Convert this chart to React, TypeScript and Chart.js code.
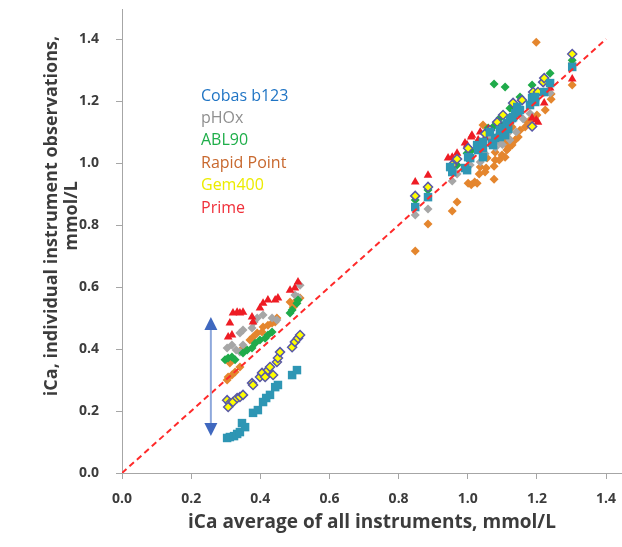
import React, { useEffect, useRef } from 'react';
import { Chart, registerables } from 'chart.js';

Chart.register(...registerables);

// ---------- data ----------
const xTickValues = [0, 0.2, 0.4, 0.6, 0.8, 1.0, 1.2, 1.4];
const yTickValues = [0, 0.2, 0.4, 0.6, 0.8, 1.0, 1.2, 1.4];

const legendLabels = ['Cobas b123', 'pHOx', 'ABL90', 'Rapid Point', 'Gem400', 'Prime'];
const legendColors = ['#1f74c4', '#8f8f8f', '#1fae4a', '#c8682e', '#ecec00', '#f0303a'];

const identityLine: [number, number][] = [[0, 0], [1.4, 1.4]];
const arrowX = 0.257;
const arrowY: [number, number] = [0.503, 0.119];

const cobas: [number, number][] = [
  [0.304, 0.113], [0.312, 0.116], [0.324, 0.119], [0.333, 0.126], [0.341, 0.132], [0.347, 0.161],
  [0.356, 0.148], [0.379, 0.194], [0.393, 0.203], [0.408, 0.229], [0.417, 0.242], [0.428, 0.252],
  [0.443, 0.277], [0.451, 0.284], [0.492, 0.316], [0.506, 0.332],
  [0.848, 0.858], [0.885, 0.890], [0.955, 0.971], [0.949, 0.987], [0.992, 0.984], [0.998, 0.977],
  [1.001, 1.019], [1.007, 1.016], [1.027, 1.058], [1.030, 1.042], [1.044, 1.019], [1.044, 1.048],
  [1.044, 1.068], [1.070, 1.065], [1.073, 1.058], [1.064, 1.100], [1.079, 1.081], [1.093, 1.084],
  [1.093, 1.106], [1.102, 1.113], [1.108, 1.090], [1.113, 1.123], [1.117, 1.110], [1.113, 1.129],
  [1.122, 1.139], [1.128, 1.145], [1.131, 1.148], [1.137, 1.161], [1.143, 1.181], [1.146, 1.165],
  [1.151, 1.171], [1.180, 1.187], [1.186, 1.210], [1.195, 1.197], [1.195, 1.213], [1.221, 1.229],
  [1.238, 1.258], [1.302, 1.310],
];

const phox: [number, number][] = [
  [0.304, 0.403], [0.318, 0.413], [0.330, 0.397], [0.341, 0.390], [0.350, 0.413], [0.341, 0.452],
  [0.350, 0.461], [0.376, 0.468], [0.382, 0.487], [0.391, 0.500], [0.408, 0.510], [0.434, 0.500],
  [0.448, 0.494], [0.500, 0.574], [0.509, 0.568], [0.515, 0.606],
  [0.848, 0.832], [0.885, 0.852], [0.955, 0.942], [0.969, 0.965], [1.007, 0.994], [1.036, 1.003],
  [1.050, 1.030], [1.065, 1.084], [1.080, 1.050], [1.093, 1.065], [1.100, 1.060], [1.115, 1.095],
  [1.122, 1.074], [1.140, 1.100], [1.160, 1.142], [1.180, 1.160], [1.221, 1.229], [1.238, 1.226],
  [1.302, 1.323],
];

const abl90: [number, number][] = [
  [0.298, 0.365], [0.307, 0.371], [0.318, 0.374], [0.327, 0.365], [0.350, 0.387], [0.362, 0.397],
  [0.376, 0.403], [0.385, 0.419], [0.399, 0.429], [0.414, 0.435], [0.422, 0.445], [0.434, 0.455],
  [0.486, 0.516], [0.492, 0.526], [0.506, 0.548], [0.509, 0.558],
  [0.848, 0.881], [0.885, 0.913], [0.955, 0.980], [0.969, 0.994], [0.998, 1.032], [1.010, 1.040],
  [1.027, 1.058], [1.044, 1.068], [1.059, 1.113], [1.073, 1.116], [1.093, 1.145], [1.100, 1.120],
  [1.076, 1.255], [1.108, 1.245], [1.122, 1.177], [1.131, 1.187], [1.151, 1.213], [1.186, 1.252],
  [1.189, 1.229], [1.218, 1.261], [1.238, 1.290], [1.302, 1.332],
];

const rapidPoint: [number, number][] = [
  [0.304, 0.300], [0.307, 0.310], [0.318, 0.316], [0.327, 0.326], [0.312, 0.355], [0.341, 0.342],
  [0.350, 0.403], [0.370, 0.429], [0.379, 0.439], [0.391, 0.452], [0.405, 0.455], [0.408, 0.471],
  [0.422, 0.477], [0.434, 0.484], [0.443, 0.487], [0.448, 0.500], [0.486, 0.552], [0.495, 0.535],
  [0.506, 0.558], [0.515, 0.565],
  [1.198, 1.390], [0.848, 0.716], [0.885, 0.803], [0.955, 0.845], [0.969, 0.874], [1.001, 0.935],
  [1.010, 0.930], [1.020, 0.939], [1.027, 0.935], [1.033, 0.965], [1.076, 0.948], [1.036, 0.987],
  [1.050, 0.971], [1.053, 0.984], [1.076, 0.990], [1.079, 1.010], [1.091, 1.010], [1.056, 1.016],
  [1.099, 1.026], [1.108, 1.019], [1.113, 1.042], [1.117, 1.048], [1.093, 1.068], [1.108, 1.065],
  [1.128, 1.058], [1.137, 1.074], [1.117, 1.081], [1.146, 1.084], [1.151, 1.106], [1.128, 1.116],
  [1.166, 1.116], [1.174, 1.132], [1.186, 1.145], [1.200, 1.155], [1.224, 1.171], [1.241, 1.206],
  [1.241, 1.223], [1.302, 1.252], [1.044, 1.123], [1.102, 1.074], [1.079, 1.035],
];

const gem400: [number, number][] = [
  [0.304, 0.235], [0.312, 0.226], [0.307, 0.213], [0.321, 0.229], [0.333, 0.242], [0.341, 0.245],
  [0.350, 0.252], [0.376, 0.290], [0.379, 0.284], [0.399, 0.310], [0.405, 0.323], [0.414, 0.310],
  [0.422, 0.332], [0.428, 0.342], [0.437, 0.316], [0.448, 0.358], [0.451, 0.371], [0.457, 0.390],
  [0.492, 0.406], [0.500, 0.423], [0.509, 0.435], [0.515, 0.445],
  [0.848, 0.894], [0.885, 0.923], [0.955, 0.994], [0.969, 1.013], [1.001, 1.048], [1.036, 1.052],
  [1.050, 1.095], [1.064, 1.106], [1.085, 1.132], [1.102, 1.155], [1.131, 1.194], [1.157, 1.203],
  [1.186, 1.118], [1.189, 1.229], [1.203, 1.229], [1.218, 1.261], [1.221, 1.274], [1.302, 1.352],
];

const prime: [number, number][] = [
  [0.312, 0.484], [0.321, 0.516], [0.333, 0.519], [0.341, 0.516], [0.350, 0.519], [0.307, 0.439],
  [0.318, 0.445], [0.376, 0.503], [0.379, 0.487], [0.399, 0.532], [0.408, 0.548], [0.422, 0.558],
  [0.443, 0.558], [0.451, 0.565], [0.486, 0.590], [0.500, 0.597], [0.509, 0.616],
  [0.848, 0.939], [0.885, 0.961], [0.943, 1.016], [0.955, 1.019], [0.969, 1.032], [0.992, 1.065],
  [0.998, 1.058], [1.010, 1.084], [1.012, 1.090], [1.030, 1.074], [1.036, 1.100], [1.050, 1.081],
  [1.056, 1.097], [1.060, 1.110], [1.093, 1.100], [1.131, 1.150], [1.146, 1.177], [1.186, 1.145],
  [1.198, 1.139], [1.203, 1.132], [1.221, 1.194], [1.238, 1.242], [1.302, 1.271],
];

const toXY = (arr: [number, number][]) => arr.map(([x, y]) => ({ x, y }));

const FONT = '"Open Sans", Lato, sans-serif';
const TEXT_COLOR = '#3c3c3c';

const overlayPlugin = {
  id: 'overlay',
  afterDatasetsDraw(chart: any) {
    const { ctx, scales, chartArea } = chart;
    const xs = scales.x;
    const ys = scales.y;
    // arrow
    const ax = xs.getPixelForValue(arrowX);
    const yTop = ys.getPixelForValue(arrowY[0]);
    const yBot = ys.getPixelForValue(arrowY[1]);
    const headL = 13;
    const headW = 6.5;
    ctx.save();
    ctx.strokeStyle = '#8ea8dc';
    ctx.lineWidth = 2;
    ctx.beginPath();
    ctx.moveTo(ax, yTop + headL - 1);
    ctx.lineTo(ax, yBot - headL + 1);
    ctx.stroke();
    ctx.fillStyle = '#3f68bf';
    ctx.beginPath();
    ctx.moveTo(ax, yTop);
    ctx.lineTo(ax - headW, yTop + headL);
    ctx.lineTo(ax + headW, yTop + headL);
    ctx.closePath();
    ctx.fill();
    ctx.beginPath();
    ctx.moveTo(ax, yBot);
    ctx.lineTo(ax - headW, yBot - headL);
    ctx.lineTo(ax + headW, yBot - headL);
    ctx.closePath();
    ctx.fill();
    // legend text
    ctx.font = `16px ${FONT}`;
    ctx.textAlign = 'left';
    ctx.textBaseline = 'middle';
    legendLabels.forEach((label, i) => {
      ctx.fillStyle = legendColors[i];
      ctx.fillText(label, chartArea.left + 79, chartArea.top + 87 + i * 22.4);
    });
    // y axis title
    ctx.font = `bold 18px ${FONT}`;
    ctx.fillStyle = TEXT_COLOR;
    ctx.textAlign = 'center';
    ctx.translate(52, 216);
    ctx.rotate(-Math.PI / 2);
    ctx.fillText('iCa, individual instrument observations,', 0, 0);
    ctx.fillText('mmol/L', 0, 20);
    ctx.restore();
  },
};

export default function App() {
  const ref = useRef<HTMLCanvasElement>(null);
  useEffect(() => {
    document.body.style.margin = '0';
    const pointDs = (label: string, data: [number, number][], style: string, radius: number, bg: string, border?: string, bw = 0) => ({
      type: 'scatter' as const,
      label,
      data: toXY(data),
      pointStyle: style,
      pointRadius: radius,
      pointHoverRadius: radius,
      backgroundColor: bg,
      borderColor: border || bg,
      borderWidth: bw,
      showLine: false,
    });
    const chart = new Chart(ref.current!, {
      type: 'scatter',
      data: {
        datasets: [
          {
            type: 'line',
            label: 'identity',
            data: toXY(identityLine),
            borderColor: '#ff2a2a',
            borderWidth: 2,
            borderDash: [6, 4],
            pointRadius: 0,
            fill: false,
          } as any,
          pointDs('Cobas b123', cobas, 'rect', 6, '#2e96b4'),
          pointDs('Gem400', gem400, 'rectRot', 4.5, '#ffff00', '#5858a8', 1.5),
          pointDs('Prime', prime, 'triangle', 5, '#ee1c24'),
          pointDs('ABL90', abl90, 'rectRot', 4.5, '#1fab4a'),
          pointDs('pHOx', phox, 'rectRot', 4.5, '#a6a6a6'),
          pointDs('Rapid Point', rapidPoint, 'rectRot', 4.5, '#e4862e'),
        ],
      },
      options: {
        responsive: false,
        animation: false,
        layout: { autoPadding: false, padding: { top: 9, right: 0, left: 0, bottom: 0 } },
        plugins: { legend: { display: false }, tooltip: { enabled: false } },
        scales: {
          x: {
            type: 'linear',
            min: 0,
            max: 1.446,
            afterBuildTicks: (s: any) => { s.ticks = xTickValues.map((v) => ({ value: v })); },
            afterFit: (s: any) => { s.height = 74; s.paddingLeft = 0; s.paddingRight = 0; },
            ticks: {
              font: { family: FONT, size: 14, weight: 'bold' },
              color: TEXT_COLOR,
              padding: 12,
              callback: (v: any) => Number(v).toFixed(1),
            },
            grid: { drawOnChartArea: false, drawTicks: true, tickLength: 6, color: '#a6a6a6' },
            border: { color: '#a6a6a6', width: 1 },
            title: {
              display: true,
              text: 'iCa average of all instruments, mmol/L',
              font: { family: FONT, size: 19, weight: 'bold' },
              color: TEXT_COLOR,
              padding: { top: 0, bottom: 13 },
            },
          },
          y: {
            type: 'linear',
            min: 0,
            max: 1.497,
            afterBuildTicks: (s: any) => { s.ticks = yTickValues.map((v) => ({ value: v })); },
            afterFit: (s: any) => { s.width = 122; s.paddingTop = 0; s.paddingBottom = 0; },
            ticks: {
              font: { family: FONT, size: 14, weight: 'bold' },
              color: TEXT_COLOR,
              padding: 17,
              callback: (v: any) => Number(v).toFixed(1),
            },
            grid: { drawOnChartArea: false, drawTicks: true, tickLength: 6, color: '#a6a6a6' },
            border: { color: '#a6a6a6', width: 1 },
          },
        },
      },
      plugins: [overlayPlugin],
    });
    return () => chart.destroy();
  }, []);
  return (
    <div style={{ width: 622, height: 547 }}>
      <canvas ref={ref} width={622} height={547} />
    </div>
  );
}
